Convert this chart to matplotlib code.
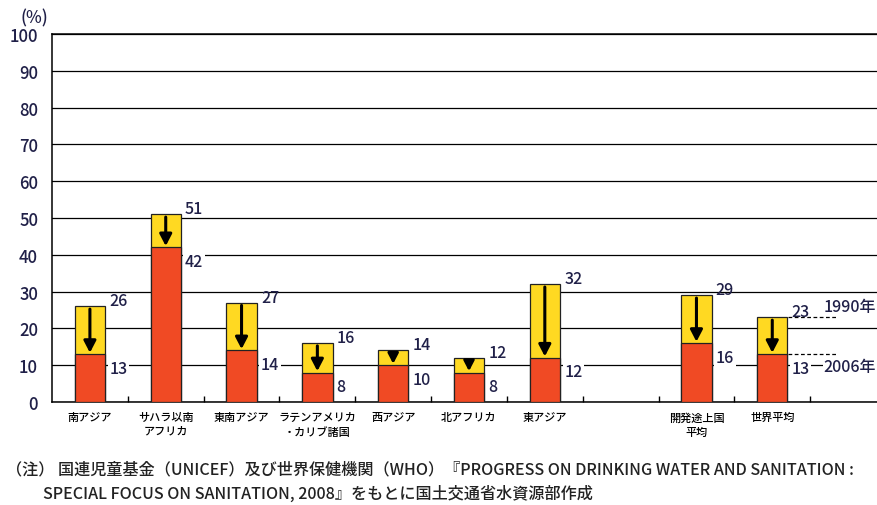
import matplotlib.pyplot as plt
import numpy as np

plt.rcParams['font.family'] = ['Noto Sans CJK JP', 'DejaVu Sans']
plt.rcParams['font.weight'] = 'medium'

# regions, with one empty slot between 東アジア and the averages
regions = ['南アジア', 'サハラ以南\nアフリカ', '東南アジア', 'ラテンアメリカ\n・カリブ諸国',
           '西アジア', '北アフリカ', '東アジア', '開発途上国\n平均', '世界平均']
slots = [0, 1, 2, 3, 4, 5, 6, 8, 9]
pct_1990 = [26, 51, 27, 16, 14, 12, 32, 29, 23]
pct_2006 = [13, 42, 14, 8, 10, 8, 12, 16, 13]
yticks = list(range(0, 101, 10))

yellow = '#FFD922'
red = '#F04A24'
txt = '#202048'

fig = plt.figure(figsize=(8.77, 5.06), dpi=100)
ax = fig.add_axes([52/877, 103/506, 834/877, 368/506])

w = 0.4
ax.bar(slots, pct_1990, width=w, color=yellow, edgecolor='#222222', linewidth=0.9, zorder=3)
ax.bar(slots, pct_2006, width=w, color=red, edgecolor='#222222', linewidth=0.9, zorder=4)

for x, a, b in zip(slots, pct_1990, pct_2006):
    # arrow from 1990 down to 2006, smaller head for short drops
    ms = min(14, 7 + 1.2 * (a - b))
    ax.annotate('', xy=(x, b), xytext=(x, a),
                arrowprops=dict(arrowstyle='-|>,head_length=0.5,head_width=0.26',
                                color='black', lw=2.2, shrinkA=2, shrinkB=1,
                                mutation_scale=ms),
                zorder=6)
    ax.annotate(str(a), xy=(x + w/2, a), xytext=(3, 4), textcoords='offset points',
                ha='left', va='center', fontsize=11.5, color=txt, zorder=7)
    ax.annotate(str(b), xy=(x + w/2, b), xytext=(3, -10), textcoords='offset points',
                ha='left', va='center', fontsize=11.5, color=txt, zorder=7,
                bbox=dict(boxstyle='square,pad=0.1', fc='white', ec='none'))

ax.set_xlim(-0.5, 10.5)
ax.set_ylim(0, 100)
ax.set_yticks(yticks)
ax.set_yticklabels([str(v) for v in yticks], fontsize=12, color=txt)
ax.tick_params(axis='y', length=0, pad=10)
ax.yaxis.grid(True, color='black', linewidth=0.9)
ax.set_axisbelow(True)

ax.set_xticks(slots)
ax.set_xticklabels(regions, fontsize=8, linespacing=1.5, va='top')
ax.tick_params(axis='x', which='major', length=0, pad=7)
ax.set_xticks(np.arange(0.5, 10, 1), minor=True)
ax.tick_params(axis='x', which='minor', direction='in', length=4, width=1)

for s in ['left', 'bottom', 'top']:
    ax.spines[s].set_linewidth(1.1)
    ax.spines[s].set_color('black')
ax.spines['right'].set_visible(False)

# legend drawn beside the world bar
ax.plot([9.21, 9.86], [pct_1990[-1], pct_1990[-1]], ls=(0, (3, 2)), color='black', lw=0.9, clip_on=False, zorder=5)
ax.plot([9.21, 9.86], [pct_2006[-1], pct_2006[-1]], ls=(0, (3, 2)), color='black', lw=0.9, clip_on=False, zorder=5)
ax.text(9.68, pct_1990[-1] + 3.0, '1990年', fontsize=11.5, color=txt, va='center', ha='left',
        zorder=7, bbox=dict(boxstyle='square,pad=0.05', fc='white', ec='none'))
ax.text(9.68, pct_2006[-1] - 3.4, '2006年', fontsize=11.5, color=txt, va='center', ha='left',
        zorder=7, bbox=dict(boxstyle='square,pad=0.05', fc='white', ec='none'))

fig.text(20/877, 1 - 18/506, '(%)', fontsize=12, color=txt, ha='left', va='center')

fig.text(6/877, 1 - 470/506,
         '（注） 国連児童基金（UNICEF）及び世界保健機関（WHO）『PROGRESS ON DRINKING WATER AND SANITATION :',
         fontsize=11.6, color='#222222', ha='left', va='center')
fig.text(43/877, 1 - 494/506,
         'SPECIAL FOCUS ON SANITATION, 2008』をもとに国土交通省水資源部作成',
         fontsize=11.6, color='#222222', ha='left', va='center')

fig.savefig('out.png', dpi=100)
